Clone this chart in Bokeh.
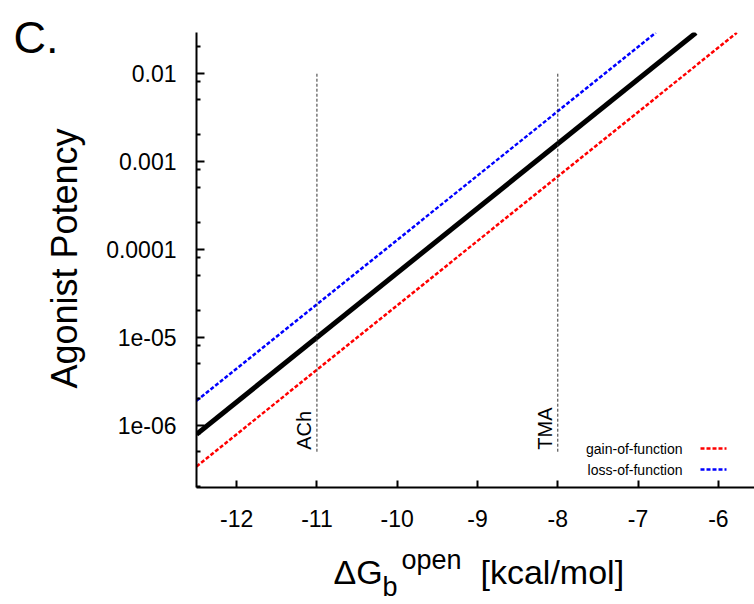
import math
from bokeh.plotting import figure
from bokeh.layouts import row, column
from bokeh.models import Range1d, FixedTicker, Label, Arrow, ColumnDataSource
from bokeh.core.properties import value
from bokeh.embed import file_html
from bokeh.resources import INLINE

# ---- data ----
dg_wild = [-12.5, -6.28]
pot_wild = [7.9e-7, 0.029]
dg_loss = [-12.5, -6.78]
pot_loss = [1.9e-6, 0.029]
dg_gain = [-12.5, -5.77]
pot_gain = [3.4e-7, 0.029]

agonist_names = ["ACh", "TMA"]
agonist_dg = [-11.0, -8.0]
agonist_lo = [5e-7, 5e-7]
agonist_hi = [1e-2, 1e-2]

x_ticks = [-12, -11, -10, -9, -8, -7, -6]
x_tick_labels = ["-12", "-11", "-10", "-9", "-8", "-7", "-6"]
y_ticks = [1e-6, 1e-5, 1e-4, 1e-3, 1e-2]
y_tick_labels = ["1e-06", "1e-05", "0.0001", "0.001", "0.01"]
y_minor_mult = [2, 5, 8]
y_decades = [1e-7, 1e-6, 1e-5, 1e-4, 1e-3, 1e-2]

legend_names = ["gain-of-function", "loss-of-function"]
legend_colors = ["#ff0000", "#0000ff"]

FONT = "Liberation Sans"
LEFT_W = 90
TOTAL_W, TOTAL_H = 754, 604
MAIN_H = 540
FRAME_L, FRAME_T, FRAME_B = 196, 32, 487

# ---------------- main plot ----------------
p = figure(width=TOTAL_W - LEFT_W, height=MAIN_H, y_axis_type="log",
           x_range=Range1d(-12.5, -5.55), y_range=Range1d(1.96e-7, 0.0292),
           output_backend="svg", toolbar_location=None,
           min_border_left=FRAME_L - LEFT_W, min_border_right=0, min_border_top=FRAME_T,
           min_border_bottom=MAIN_H - FRAME_B)
p.xgrid.visible = False
p.ygrid.visible = False
p.outline_line_color = None
p.background_fill_color = "white"
p.border_fill_color = "white"

xa = p.xaxis[0]
ya = p.yaxis[0]
xa.ticker = FixedTicker(ticks=x_ticks, minor_ticks=[])
xa.major_label_overrides = {t: s for t, s in zip(x_ticks, x_tick_labels)}
minor = [m * d for d in y_decades for m in y_minor_mult]
ya.ticker = FixedTicker(ticks=y_ticks, minor_ticks=minor)
ya.major_label_overrides = {t: s for t, s in zip(y_ticks, y_tick_labels)}

for ax in (xa, ya):
    ax.axis_line_width = 2
    ax.axis_line_color = "black"
    ax.major_tick_line_width = 2
    ax.major_tick_line_color = "black"
    ax.minor_tick_line_width = 2
    ax.minor_tick_line_color = "black"
    ax.major_tick_out = 0
    ax.minor_tick_out = 0
    ax.major_label_text_font = FONT
    ax.major_label_text_font_size = "23px"
    ax.major_label_text_color = "black"
xa.major_tick_in = 7
ya.major_tick_in = 8
ya.minor_tick_in = 4
xa.major_label_standoff = 22
ya.major_label_standoff = 20

# curves
p.line(dg_gain, pot_gain, line_color=legend_colors[0], line_width=2.5, line_dash="4 2")
p.line(dg_loss, pot_loss, line_color=legend_colors[1], line_width=2.5, line_dash="4 2")
p.line(dg_wild, pot_wild, line_color="black", line_width=5)

# agonist markers
src = ColumnDataSource(dict(name=agonist_names, dg=agonist_dg, lo=agonist_lo, hi=agonist_hi))
p.segment(x0="dg", y0="lo", x1="dg", y1="hi", source=src,
          line_color="#333333", line_width=1, line_dash="3 2")
p.text(x="dg", y="lo", text="name", source=src, angle=math.pi / 2,
       text_align="left", text_baseline="middle", x_offset=-13, y_offset=-2,
       text_font=value(FONT), text_font_size="20px", text_color="black")

# legend (label then sample line)
for i, (name, col) in enumerate(zip(legend_names, legend_colors)):
    yy = 39 - 21 * i
    p.add_layout(Label(x=486, y=yy, x_units="screen", y_units="screen", text=name,
                       text_align="right", text_baseline="middle",
                       text_font=FONT, text_font_size="14px", text_color="black"))
    p.add_layout(Arrow(end=None, x_start=504, y_start=yy, x_end=530, y_end=yy,
                       start_units="screen", end_units="screen",
                       line_color=col, line_width=2.5, line_dash="4 2"))


def blank(width, height, x0, x1, y0, y1, left=0):
    f = figure(width=width, height=height, x_range=Range1d(x0, x1), y_range=Range1d(y0, y1),
               output_backend="svg", toolbar_location=None,
               x_axis_location=None, y_axis_location=None, min_border=0,
               min_border_left=left)
    f.xgrid.visible = False
    f.ygrid.visible = False
    f.outline_line_color = None
    f.background_fill_color = "white"
    f.border_fill_color = "white"
    return f


# ---------------- left strip: panel letter + y label ----------------
pl = blank(LEFT_W, TOTAL_H, 0, LEFT_W, TOTAL_H, 0)
pl.add_layout(Label(x=13, y=37, text="C.", text_baseline="middle",
                    text_font=FONT, text_font_size="45px", text_color="black"))
pl.add_layout(Label(x=64, y=258, text="Agonist Potency", angle=math.pi / 2,
                    text_align="center", text_baseline="middle",
                    text_font=FONT, text_font_size="36px", text_color="black"))

# ---------------- bottom strip: x axis label (frame aligned with main frame) ----------------
pb = blank(TOTAL_W - LEFT_W, TOTAL_H - MAIN_H, FRAME_L, TOTAL_W, TOTAL_H, MAIN_H,
           left=FRAME_L - LEFT_W)
mid = 571
pb.add_layout(Label(x=333, y=mid, text="ΔG", text_baseline="middle",
                    text_font=FONT, text_font_size="34px", text_color="black"))
pb.add_layout(Label(x=382, y=586, text="b", text_baseline="middle",
                    text_font=FONT, text_font_size="27px", text_color="black"))
pb.add_layout(Label(x=401, y=mid - 12, text="open", text_baseline="middle",
                    text_font=FONT, text_font_size="27px", text_color="black"))
pb.add_layout(Label(x=480, y=mid, text="[kcal/mol]", text_baseline="middle",
                    text_font=FONT, text_font_size="34px", text_color="black"))

layout = row(pl, column(p, pb))
open("out.html", "w").write(file_html(layout, INLINE))
